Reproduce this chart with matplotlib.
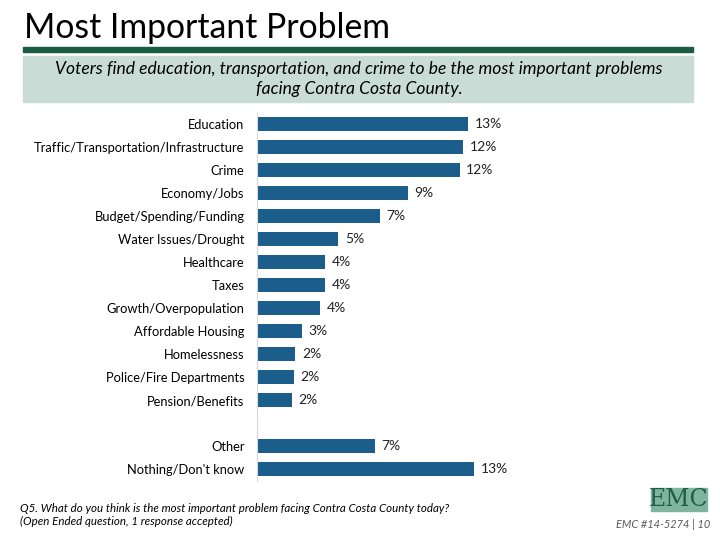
import matplotlib
matplotlib.use('Agg')
import matplotlib.pyplot as plt
from matplotlib.patches import Rectangle

# data
categories = ['Education', 'Traffic/Transportation/Infrastructure', 'Crime', 'Economy/Jobs',
              'Budget/Spending/Funding', 'Water Issues/Drought', 'Healthcare', 'Taxes',
              'Growth/Overpopulation', 'Affordable Housing', 'Homelessness',
              'Police/Fire Departments', 'Pension/Benefits', 'Other', "Nothing/Don't know"]
values = [12.7, 12.4, 12.2, 9.1, 7.4, 4.9, 4.1, 4.1, 3.8, 2.7, 2.3, 2.2, 2.1, 7.1, 13.1]
value_labels = ['13%', '12%', '12%', '9%', '7%', '5%', '4%', '4%', '4%', '3%', '2%', '2%', '2%', '7%', '13%']
positions = [0, 1, 2, 3, 4, 5, 6, 7, 8, 9, 10, 11, 12, 14, 15]

title = 'Most Important Problem'
subtitle = ['Voters find education, transportation, and crime to be the most important problems',
            'facing Contra Costa County.']
footnote = ['Q5. What do you think is the most important problem facing Contra Costa County today?',
            '(Open Ended question, 1 response accepted)']
page_tag = 'EMC #14-5274 | 10'

plt.rcParams['font.family'] = ['Lato', 'DejaVu Sans']
W, H = 720, 540
fig = plt.figure(figsize=(7.2, 5.4), dpi=100)

def fx(px):
    return px / W

def fy(py):
    return 1 - py / H

# header
fig.text(fx(24), fy(28), title, fontsize=24.3, va='center', ha='left', color='black')
fig.patches.append(Rectangle((fx(23), fy(52)), fx(693 - 23), 5 / H, transform=fig.transFigure,
                             color='#1b5c45', zorder=1))
fig.patches.append(Rectangle((fx(23), fy(102)), fx(693 - 23), 46 / H, transform=fig.transFigure,
                             color='#c9ddd6', zorder=1))
fig.text(fx(359), fy(69), subtitle[0], fontsize=12.6, style='italic', ha='center', va='center')
fig.text(fx(359), fy(89), subtitle[1], fontsize=12.6, style='italic', ha='center', va='center')

# chart
x0, y_top, y_bot = 257, 112.5, 480.5
ax = fig.add_axes([fx(x0), fy(y_bot), 16 * 16.6 / W, (y_bot - y_top) / H])
ax.barh(positions, values, height=0.65, color='#1b5e8c')
for p, v, lab in zip(positions, values, value_labels):
    ax.text(v + 0.4, p, lab, va='center', ha='left', fontsize=10, color='#222222')
ax.set_xlim(0, 16)
ax.set_ylim(15.5, -0.5)
ax.set_yticks(positions)
ax.set_yticklabels(categories, fontsize=9.3)
ax.tick_params(axis='y', length=0, pad=9)
ax.set_xticks([])
for s in ['top', 'right', 'bottom']:
    ax.spines[s].set_visible(False)
ax.spines['left'].set_color('#d9d9d9')
ax.patch.set_alpha(0)

# footer
fig.text(fx(20), fy(508), footnote[0], fontsize=8.3, style='italic', ha='left', va='center')
fig.text(fx(20), fy(521), footnote[1], fontsize=8.3, style='italic', ha='left', va='center')
fig.text(fx(710), fy(524), page_tag, fontsize=7.9, style='italic', ha='right', va='center',
         color='#595959')

# logo
fig.patches.append(Rectangle((fx(651), fy(511)), fx(56), 23 / H, transform=fig.transFigure,
                             color='#7fb59e', zorder=1))
fig.text(fx(679), fy(499), 'EMC', fontsize=17, family='DejaVu Serif', ha='center', va='center',
         color='#1d5e45')

fig.savefig('out.png', dpi=100)
